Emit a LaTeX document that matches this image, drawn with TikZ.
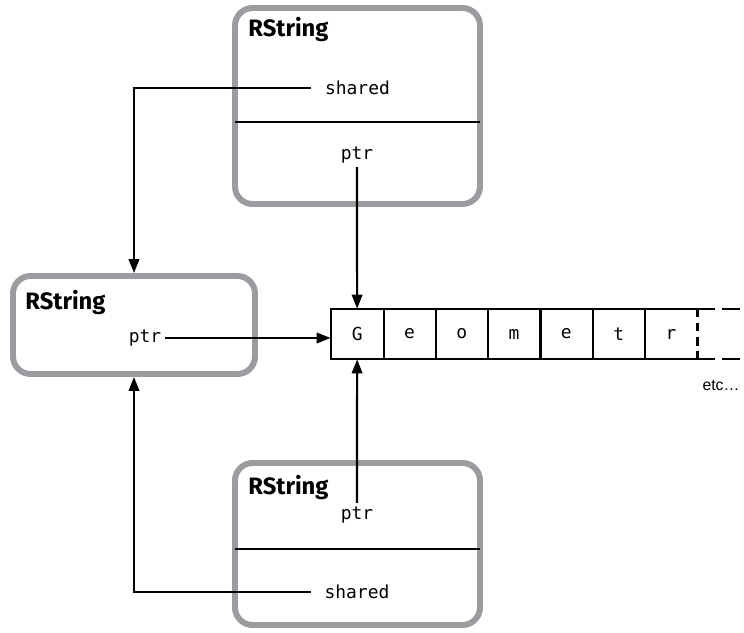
\documentclass[tikz,border=0pt]{standalone}
\usepackage{fontspec}
\setmonofont{DejaVu Sans Mono}
\newfontfamily\headfont{Fira Sans}
\newfontfamily\notefont{Liberation Sans}
\usetikzlibrary{arrows.meta,positioning}
\definecolor{frame}{RGB}{155,155,160}
\tikzset{
  objbox/.style={draw=frame, line width=3.4pt, rounded corners=10pt, inner sep=0pt},
  title/.style={font=\headfont\bfseries\fontsize{13.5}{15}\selectfont, anchor=west, inner sep=0pt},
  field/.style={font=\ttfamily\fontsize{10.2}{12}\selectfont, inner sep=2pt},
  cell/.style={font=\ttfamily\fontsize{10.2}{12}\selectfont, minimum width=1.046cm,
               minimum height=1cm, inner sep=0pt},
  link/.style={line width=1.25pt},
  flow/.style={link, -{Triangle[length=2.8mm,width=2.1mm]}},
  cut/.style={link, shorten <=1.7pt, shorten >=1.7pt},
}

\begin{document}
\begin{tikzpicture}
        \useasboundingbox (0,0) rectangle (14.88,12.66);
        % the three RString objects
        \node[objbox, minimum width=4.9cm, minimum height=3.92cm] (tbox) at (7.15,10.54) {};
        \node[objbox, minimum width=4.84cm, minimum height=1.96cm] (lbox) at (2.68,6.16) {};
        \node[objbox, minimum width=4.9cm, minimum height=3.24cm] (bbox) at (7.15,1.78) {};
        \node[title] (tname) at ([shift={(0.32,-0.5)}]tbox.north west) {RString};
        \node[title] (lname) at ([shift={(0.3,-0.6)}]lbox.north west) {RString};
        \node[title] (bname) at ([shift={(0.32,-0.56)}]bbox.north west) {RString};
        \draw[cut] ([yshift=-0.32cm]tbox.west) -- ([yshift=-0.32cm]tbox.east);
        \draw[cut] ([yshift=-0.1cm]bbox.west) -- ([yshift=-0.1cm]bbox.east);
        \node[field] (tshared) at (7.15,10.9) {shared};
        \node[field] (tptr) at (7.14,9.56) {ptr};
        \node[field] (lptr) at (2.9,5.9) {ptr};
        \node[field] (bptr) at (7.14,2.36) {ptr};
        \node[field] (bshared) at (7.14,0.82) {shared};
        % the character buffer
        \foreach \ch [count=\i] in {G,e,o,m,e,t,r}
          \node[cell] (c\i) at ({6.62+1.046*(\i-0.5)},5.98) {\ch};
        \draw[link] (c7.north east) -- (c1.north west) -- (c1.south west) -- (c7.south east);
        \foreach \i in {1,...,6} \draw[link] (c\i.north east) -- (c\i.south east);
        \draw[link, dash pattern=on 5pt off 3pt] (c7.north east) -- (c7.south east);
        \draw[link, dash pattern=on 10pt off 4pt] (c7.north east) -- ++(1.0,0);
        \draw[link, dash pattern=on 10pt off 4pt] (c7.south east) -- ++(1.0,0);
        \node[font=\notefont\fontsize{9}{11}\selectfont] (etc) at (14.42,4.96) {etc…};
        % pointers
        \draw[flow] (tptr) -- (c1);
        \draw[flow] (bptr) -- (c1);
        \draw[flow] (lptr.east) -- (lptr.east -| c1.west);
        \draw[flow, shorten <=0.2cm] (tshared.west) -| (lbox.north);
        \draw[flow, shorten <=0.2cm] (bshared.west) -| (lbox.south);
      \end{tikzpicture}
\end{document}
